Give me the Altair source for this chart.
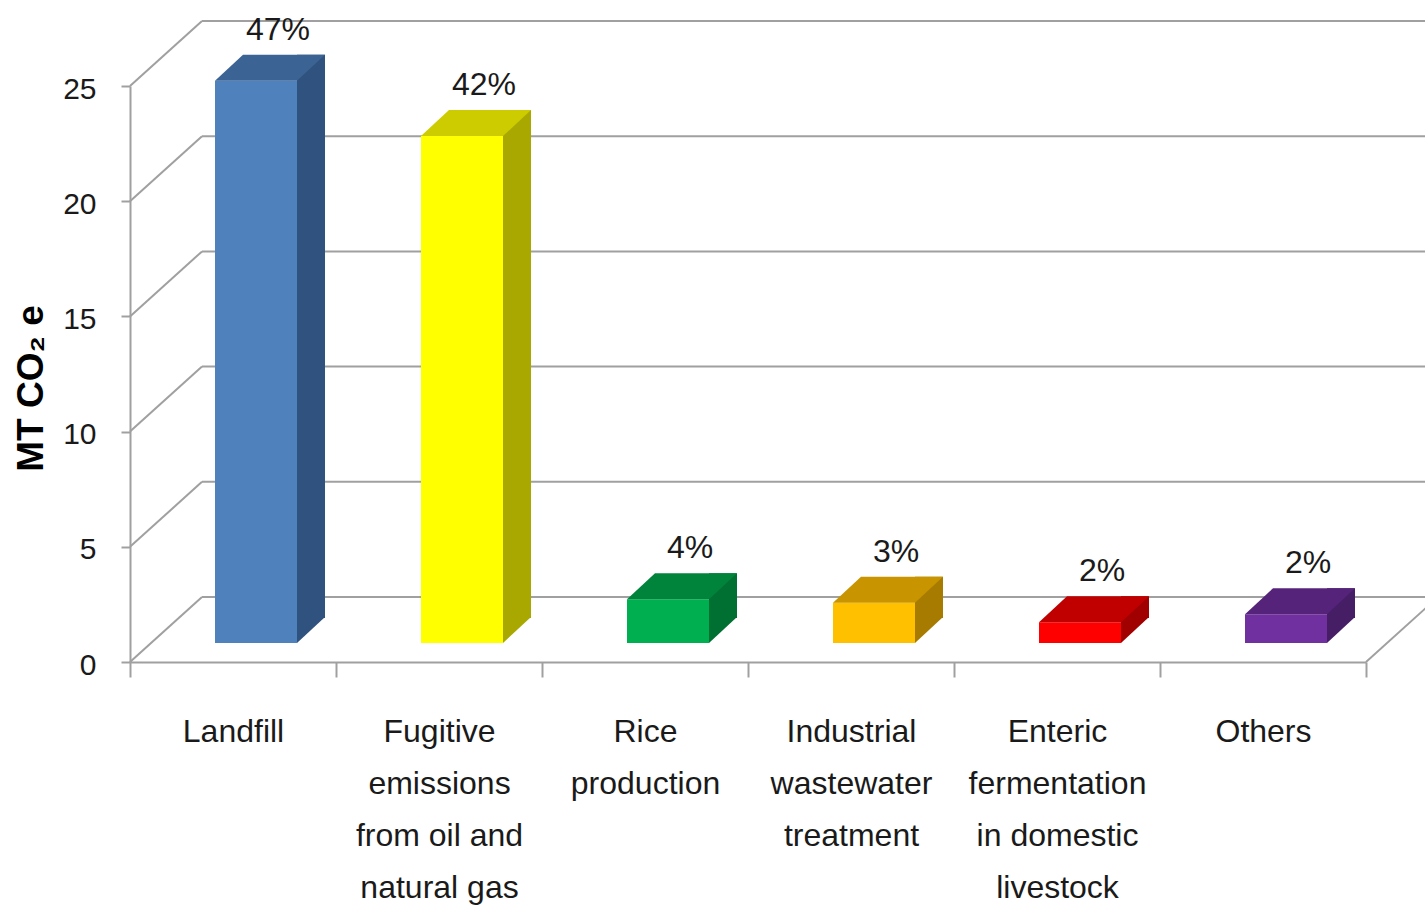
import altair as alt
import pandas as pd

# ---- data ----
categories = [
    "Landfill",
    "Fugitive\nemissions\nfrom oil and\nnatural gas",
    "Rice\nproduction",
    "Industrial\nwastewater\ntreatment",
    "Enteric\nfermentation\nin domestic\nlivestock",
    "Others",
]
values = [24.4, 22.0, 1.9, 1.75, 0.9, 1.25]
pct_labels = ["47%", "42%", "4%", "3%", "2%", "2%"]
front_colors = ["#4F81BD", "#FFFF00", "#00B050", "#FFC000", "#FF0000", "#7030A0"]
top_colors = ["#3B6394", "#CCCC00", "#00843C", "#C89400", "#C00000", "#55247A"]
side_colors = ["#30527E", "#A8A800", "#006F32", "#A67B00", "#A00000", "#461E66"]
y_ticks = [0, 5, 10, 15, 20, 25]

# ---- styling constants (3-D look) ----
FONT = "Liberation Sans"
GRID = "#A0A0A0"
BAR_W = 82          # front face width
DEPTH_X, DEPTH_Y = 28, -26   # bar depth projection
SHIFT = 23          # bar shift right inside band
LIFT = -19          # bar floor above axis line
WALL_X, WALL_Y = 72, -65     # back wall projection

df = pd.DataFrame({
    "cat": categories,
    "value": values,
    "pct": pct_labels,
    "front": front_colors,
    "top": top_colors,
    "side": side_colors,
})
ticks_df = pd.DataFrame({"t": y_ticks})
zero_df = pd.DataFrame({"t": [0]})

yscale = alt.Scale(domain=[0, 25], nice=False, zero=True)
xscale = alt.Scale(domain=categories, paddingInner=0, paddingOuter=0)

y_axis = alt.Axis(
    values=y_ticks, grid=False, domainColor=GRID, domainWidth=2,
    tickColor=GRID, tickWidth=2, tickSize=9, labelPadding=25,
    labelFont=FONT, labelFontSize=30, labelColor="#1a1a1a", labelOffset=3,
    title="MT CO₂ e", titleFont=FONT, titleFontWeight="bold",
    titleFontSize=37, titleColor="#000000", titleAngle=-90,
    titleX=-88, titleY=302, titleAlign="center", titleBaseline="alphabetic",
)
x_axis = alt.Axis(
    title=None, labelAngle=0, labelExpr="split(datum.label, '\\n')",
    labelLineHeight=52, labelFont=FONT, labelFontSize=32, labelColor="#1a1a1a",
    labelPadding=39, tickBand="extent", tickSize=15, tickColor=GRID, tickWidth=2,
    domainColor=GRID, domainWidth=2, grid=False, labelLimit=400,
)

X = alt.X("cat:N", sort=categories, scale=xscale, axis=x_axis)


def Y(field):
    return alt.Y(field, scale=yscale, axis=y_axis)


# back wall gridlines
back_grid = alt.Chart(ticks_df).mark_rule(
    color=GRID, strokeWidth=2, xOffset=WALL_X, x2Offset=WALL_X,
    yOffset=WALL_Y, y2Offset=WALL_Y,
).encode(
    x=alt.value(0), x2=alt.value("width"),
    y=Y("t:Q"),
)

# left wall diagonals
left_diag = alt.Chart(ticks_df).mark_rule(
    color=GRID, strokeWidth=2, x2Offset=WALL_X, y2Offset=WALL_Y,
).encode(
    x=alt.value(0), x2=alt.value(0),
    y=Y("t:Q"), y2="t:Q",
)

# right floor edge
right_diag = alt.Chart(zero_df).mark_rule(
    color=GRID, strokeWidth=2, x2Offset=WALL_X, y2Offset=WALL_Y,
).encode(
    x=alt.value("width"), x2=alt.value("width"),
    y=Y("t:Q"), y2="t:Q",
)

front = alt.Chart(df).mark_bar(
    width=BAR_W, xOffset=SHIFT, yOffset=LIFT, y2Offset=LIFT,
).encode(
    x=X,
    y=Y("value:Q"),
    y2=alt.datum(0),
    fill=alt.Fill("front:N", scale=None),
)

side_rect = alt.Chart(df).mark_bar(
    width=DEPTH_X, xOffset=SHIFT + BAR_W / 2 + DEPTH_X / 2,
    yOffset=LIFT + DEPTH_Y, y2Offset=LIFT + DEPTH_Y + 1,
).encode(
    x=X,
    y=Y("value:Q"),
    y2=alt.datum(0),
    fill=alt.Fill("side:N", scale=None),
)

h = BAR_W / 2
tri_path = f"M{h},0 L{h},{DEPTH_Y} L{h + DEPTH_X},{DEPTH_Y} Z"
side_tri = alt.Chart(df).mark_point(
    shape=tri_path, size=4, filled=True, opacity=1, strokeWidth=0,
    xOffset=SHIFT, yOffset=LIFT,
).encode(
    x=X,
    y=alt.Y(datum=0, scale=yscale, axis=y_axis),
    fill=alt.Fill("side:N", scale=None),
)

top_path = f"M{-h},0 L{h},0 L{h + DEPTH_X},{DEPTH_Y} L{-h + DEPTH_X},{DEPTH_Y} Z"
top_face = alt.Chart(df).mark_point(
    shape=top_path, size=4, filled=True, opacity=1, strokeWidth=0,
    xOffset=SHIFT, yOffset=LIFT,
).encode(
    x=X,
    y=Y("value:Q"),
    fill=alt.Fill("top:N", scale=None),
)

labels = alt.Chart(df).mark_text(
    font=FONT, fontSize=32, color="#1a1a1a", baseline="alphabetic",
    xOffset=SHIFT + 22, yOffset=LIFT - 41,
).encode(
    x=X,
    y=Y("value:Q"),
    text="pct:N",
)

chart = alt.layer(
    back_grid, left_diag, right_diag, front, side_rect, side_tri, top_face, labels
).properties(
    width=1236, height=576,
    padding={"left": 130, "top": 86, "right": 59, "bottom": 245},
    autosize="none", background="white",
).configure_view(stroke=None)

chart.save("out.html", embed_options={"renderer": "svg", "actions": False})
